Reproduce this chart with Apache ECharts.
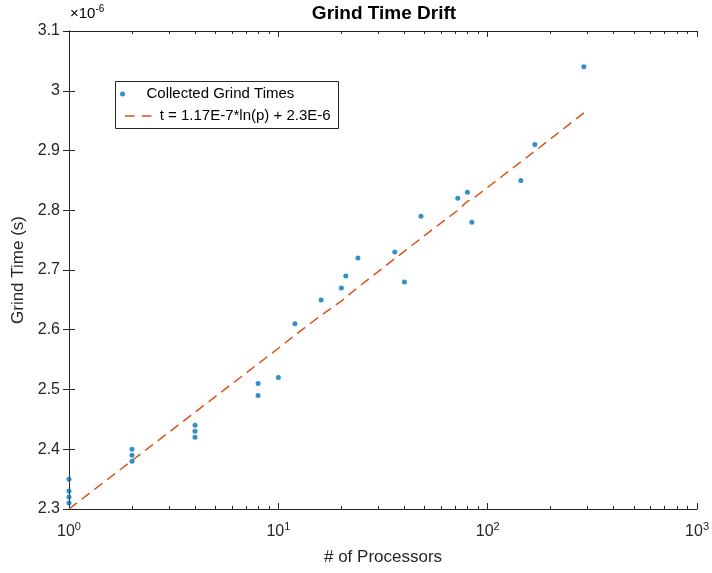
<!DOCTYPE html>
<html><head><meta charset="utf-8">
<script src="https://cdn.jsdelivr.net/npm/echarts@6/dist/echarts.min.js"></script>
<style>html,body{margin:0;padding:0;background:#fff}#c{width:712px;height:573px}</style>
</head><body><div id="c"></div>
<script>
// Collected grind times (units of 1e-6 s)
const procs = [1,1,1,1,2,2,2,4,4,4,8,8,10,12,16,20,21,24,36,40,48,72,80,84,144,168,288];
const grindTimes = [2.35,2.33,2.32,2.31,2.40,2.39,2.38,2.44,2.43,2.42,2.51,2.49,2.52,2.61,2.65,2.67,2.69,2.72,2.73,2.68,2.79,2.82,2.83,2.78,2.85,2.91,3.04];
// Fit line
const fitProcs = [1,2,4,8,10,12,16,20,24,36,48,72,80,84,144,168,288];
const fitTimes = [2.300,2.381,2.462,2.543,2.569,2.591,2.624,2.648,2.671,2.719,2.753,2.800,2.815,2.818,2.881,2.899,2.963];
const yTicks = ['2.3','2.4','2.5','2.6','2.7','2.8','2.9','3','3.1'];
const xMinorTicks = [];
for (let k = 0; k < 3; k++) for (let m = 2; m <= 9; m++) xMinorTicks.push(k + Math.log10(m));

const AX = '#262626';
const FONT = 'Liberation Sans, Arial, sans-serif';
const S1 = 'Collected Grind Times';
const S2 = 't = 1.17E-7*ln(p) + 2.3E-6';
const chart = echarts.init(document.getElementById('c'));
const grid = {left: 69, right: 14, top: 31, bottom: 64};
const xlab = v => '{b|10}{s|' + Math.round(Math.log10(v)) + '}';
const tickStyle = {inside: true, length: 6, lineStyle: {color: AX}};
chart.setOption({
  animation: false,
  backgroundColor: '#fff',
  textStyle: {fontFamily: FONT},
  title: {text: 'Grind Time Drift', left: 384, textAlign: 'center', top: 4, padding: 0,
    textStyle: {fontSize: 19, fontWeight: 'bold', color: '#000', fontFamily: FONT}},
  graphic: [
    {type: 'text', left: 70, top: 4, z: 10,
     style: {text: '{a|×10}{s|-6}', rich: {
       a: {fontSize: 15, color: AX, fontFamily: FONT},
       s: {fontSize: 10, color: AX, padding: [0, 0, 9, 0], fontFamily: FONT}}}},
    {type: 'rect', z: 0, shape: {x: 115.5, y: 81.5, width: 223, height: 47},
     style: {fill: '#fff', stroke: AX, lineWidth: 1}}
  ],
  legend: [{
    left: 120, top: 84, padding: 0, itemWidth: 38, itemHeight: 5,
    textStyle: {fontSize: 15, lineHeight: 20, color: '#000', fontFamily: FONT},
    data: [{name: S1, icon: 'circle', itemStyle: {color: '#0072BD'}}]
  }, {
    left: 125, top: 106, padding: 0, itemWidth: 33, itemHeight: 1.6,
    textStyle: {fontSize: 15, lineHeight: 20, color: '#000', fontFamily: FONT},
    data: [{name: S2, icon: 'path://M0,0h12v2h-12z M21,0h12v2h-12z', itemStyle: {color: '#D95319'}}]
  }],
  grid: grid,
  xAxis: [{
    type: 'log', logBase: 10, min: 1, max: 1000,
    name: '# of Processors', nameLocation: 'middle', nameGap: 40,
    nameTextStyle: {fontSize: 17, color: AX, fontFamily: FONT},
    axisLine: {lineStyle: {color: AX, width: 1}},
    axisTick: tickStyle,
    axisLabel: {formatter: xlab, margin: 12, color: AX,
      rich: {b: {fontSize: 16, color: AX, fontFamily: FONT},
             s: {fontSize: 11, color: AX, padding: [0, 0, 10, 0], fontFamily: FONT}}},
    splitLine: {show: false}
  }, {
    type: 'log', logBase: 10, min: 1, max: 1000, position: 'top',
    axisLine: {lineStyle: {color: AX, width: 1}},
    axisTick: tickStyle,
    axisLabel: {show: false}, splitLine: {show: false}
  }, {
    type: 'value', min: 0, max: 3, position: 'bottom',
    axisLine: {show: false},
    axisTick: {inside: true, length: 3, customValues: xMinorTicks, lineStyle: {color: AX}},
    axisLabel: {show: false}, splitLine: {show: false}
  }, {
    type: 'value', min: 0, max: 3, position: 'top',
    axisLine: {show: false},
    axisTick: {inside: true, length: 3, customValues: xMinorTicks, lineStyle: {color: AX}},
    axisLabel: {show: false}, splitLine: {show: false}
  }],
  yAxis: [{
    type: 'value', min: 2.3, max: 3.1, interval: 0.1,
    name: 'Grind Time (s)', nameLocation: 'middle', nameGap: 41,
    nameTextStyle: {fontSize: 17, color: AX, fontFamily: FONT},
    axisLine: {show: true, lineStyle: {color: AX, width: 1}},
    axisTick: tickStyle,
    axisLabel: {fontSize: 16, color: AX, margin: 9,
      formatter: v => yTicks[Math.round((v - 2.3) * 10)] || ''},
    splitLine: {show: false}
  }, {
    type: 'value', min: 2.3, max: 3.1, interval: 0.1, position: 'right',
    axisLine: {show: true, lineStyle: {color: AX, width: 1}},
    axisTick: tickStyle,
    axisLabel: {show: false}, splitLine: {show: false}
  }],
  series: [{
    name: S1, type: 'scatter', xAxisIndex: 0, yAxisIndex: 0,
    symbol: 'circle', symbolSize: 5, itemStyle: {color: '#0072BD'},
    data: procs.map((p, i) => [p, grindTimes[i]])
  }, {
    name: S2, type: 'line', xAxisIndex: 0, yAxisIndex: 0,
    showSymbol: false, symbol: 'none', z: 1,
    lineStyle: {color: '#D95319', width: 1.5, type: [10, 6]},
    itemStyle: {color: '#D95319'},
    data: fitProcs.map((p, i) => [p, fitTimes[i]])
  }]
});
</script></body></html>
